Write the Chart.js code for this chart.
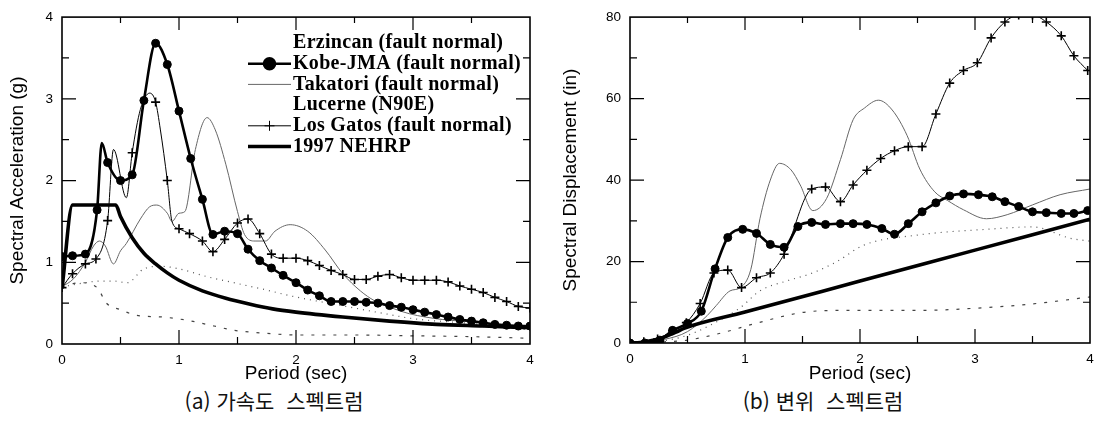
<!DOCTYPE html>
<html lang="ko">
<head>
<meta charset="UTF-8">
<title>Response spectra</title>
<script src="https://cdn.jsdelivr.net/npm/chart.js@4.4.1/dist/chart.umd.js"></script>
<style>
    body { margin: 0; background: #fff; }
    .panel { position: absolute; top: 0; width: 553px; height: 385px; }
    .caption { position: absolute; top: 385px; font-family: "Noto Sans CJK KR", sans-serif; font-size: 21px; white-space: pre; color: #111; transform: translateX(-50%); }
</style>
</head>
<body>
<div class="panel" style="left:0"><canvas id="accChart" width="553" height="385"></canvas></div>
<div class="panel" style="left:553px"><canvas id="dispChart" width="553" height="385"></canvas></div>
<div class="caption" style="left:274px">(a) 가속도  스펙트럼</div>
<div class="caption" style="left:823px">(b) 변위  스펙트럼</div>

<script>
// legend labels, in legend order
const seriesNames = ['Erzincan (fault normal)', 'Kobe-JMA (fault normal)', 'Takatori (fault normal)',
    'Lucerne (N90E)', 'Los Gatos (fault normal)', '1997 NEHRP'];
const xTicks = [0, 1, 2, 3, 4];
const accTicks = [0, 1, 2, 3, 4];
const dispTicks = [0, 20, 40, 60, 80];

// (a) spectral acceleration (g) vs period (sec)
const erzAccT  = [0, 0.2, 0.32, 0.44, 0.56, 0.7, 0.85, 1.0, 1.25, 1.5, 1.75, 1.95, 2.2, 2.5, 2.8, 3.0, 3.5, 4.0];
const erzAccSa = [0.7, 0.75, 0.77, 0.77, 0.75, 0.92, 0.95, 0.92, 0.82, 0.74, 0.66, 0.59, 0.52, 0.44, 0.36, 0.31, 0.25, 0.17];

const kobeAccT  = [0, 0.09, 0.2, 0.3, 0.34, 0.39, 0.5, 0.6, 0.7, 0.8, 0.9, 1.0, 1.1, 1.2, 1.29, 1.39, 1.5, 1.59, 1.69,
    1.79, 1.89, 2.0, 2.1, 2.2, 2.3, 2.4, 2.5, 2.6, 2.7, 2.8, 2.9, 3.0, 3.1, 3.2, 3.3, 3.4, 3.5, 3.6, 3.7, 3.8, 3.9, 4.0];
const kobeAccSa = [1.07, 1.08, 1.1, 1.64, 2.46, 2.22, 2.0, 2.07, 2.98, 3.68, 3.42, 2.85, 2.27, 1.77, 1.34, 1.38, 1.35, 1.16, 1.02,
    0.93, 0.84, 0.75, 0.66, 0.59, 0.52, 0.52, 0.52, 0.51, 0.5, 0.47, 0.45, 0.42, 0.39, 0.36, 0.33, 0.3, 0.28, 0.26, 0.24, 0.23, 0.22, 0.22];

const takAccT  = [0, 0.1, 0.2, 0.27, 0.32, 0.37, 0.44, 0.5, 0.55, 0.67, 0.75, 0.81, 0.9, 0.94, 1.0, 1.05, 1.14, 1.24, 1.31, 1.4,
    1.5, 1.56, 1.65, 1.74, 1.82, 1.95, 2.1, 2.25, 2.4, 2.55, 2.67, 2.82, 2.97, 3.25, 3.5, 3.75, 4.0];
const takAccSa = [0.7, 0.8, 1.0, 1.2, 1.26, 1.2, 0.98, 1.14, 1.23, 1.53, 1.68, 1.7, 1.6, 1.5, 1.6, 1.62, 2.38, 2.77, 2.62, 2.2,
    1.62, 1.34, 1.26, 1.26, 1.38, 1.46, 1.38, 1.15, 0.86, 0.65, 0.53, 0.44, 0.37, 0.3, 0.27, 0.23, 0.2];

const lucAccT  = [0, 0.15, 0.3, 0.38, 0.5, 0.64, 0.86, 1.07, 1.3, 1.46, 1.75, 2.0, 2.5, 3.0, 3.5, 4.0];
const lucAccSa = [0.7, 0.75, 0.69, 0.5, 0.42, 0.35, 0.33, 0.29, 0.22, 0.17, 0.13, 0.11, 0.11, 0.1, 0.09, 0.07];

const lgAccT  = [0, 0.09, 0.2, 0.29, 0.39, 0.44, 0.55, 0.6, 0.67, 0.75, 0.8, 0.84, 0.9, 0.94, 1.0, 1.09, 1.2, 1.29, 1.39, 1.5,
    1.59, 1.69, 1.79, 1.89, 2.0, 2.1, 2.2, 2.3, 2.4, 2.5, 2.6, 2.7, 2.8, 2.9, 3.0, 3.1, 3.2, 3.3, 3.4, 3.5, 3.6, 3.7, 3.8, 3.9, 4.0];
const lgAccSa = [0.69, 0.86, 0.98, 1.04, 1.51, 2.38, 1.79, 2.34, 2.87, 3.07, 2.96, 2.63, 2.0, 1.5, 1.41, 1.35, 1.26, 1.13, 1.28, 1.48,
    1.53, 1.35, 1.1, 1.05, 1.05, 1.02, 0.96, 0.9, 0.85, 0.79, 0.79, 0.83, 0.85, 0.81, 0.78, 0.78, 0.78, 0.76, 0.71, 0.67, 0.63, 0.57, 0.52, 0.46, 0.44];

const nehrpAccT  = [0, 0.09, 0.46, 0.5, 0.6, 0.7, 0.8, 0.9, 1.0, 1.2, 1.4, 1.6, 1.8, 2.0, 2.4, 2.8, 3.2, 3.6, 4.0];
const nehrpAccSa = [0.68, 1.7, 1.7, 1.56, 1.3, 1.11, 0.98, 0.87, 0.78, 0.65, 0.56, 0.49, 0.43, 0.39, 0.33, 0.28, 0.24, 0.22, 0.2];

// (b) spectral displacement (in) vs period (sec)
const erzDispT  = [0, 0.3, 0.5, 0.7, 0.96, 1.13, 1.37, 1.57, 1.8, 2.03, 2.5, 3.15, 3.5, 3.83, 4.0];
const erzDispSd = [0, 0.6, 1.9, 4.4, 8.7, 12.8, 15.3, 17, 20, 24, 26.5, 28, 28.5, 25.7, 25];

const kobeDispT  = [0, 0.13, 0.26, 0.37, 0.5, 0.62, 0.74, 0.85, 0.98, 1.1, 1.22, 1.34, 1.46, 1.58, 1.7, 1.83, 1.94, 2.06, 2.19,
    2.3, 2.42, 2.54, 2.66, 2.78, 2.9, 3.03, 3.15, 3.26, 3.38, 3.5, 3.62, 3.75, 3.86, 3.98];
const kobeDispSd = [0, 0, 0.7, 3.1, 4.8, 7.8, 18.2, 25.9, 27.9, 26.9, 24.2, 23.5, 28.6, 29.6, 29.1, 29.3, 29.3, 29.1, 28.1,
    26.7, 29.3, 32.2, 34.4, 36.1, 36.6, 36.4, 35.9, 34.7, 33.5, 32.2, 32, 31.8, 31.8, 32.5];

const takDispT  = [0, 0.3, 0.5, 0.67, 0.75, 0.87, 0.96, 1.05, 1.13, 1.22, 1.3, 1.4, 1.48, 1.59, 1.71, 1.83, 1.94, 2.04, 2.16,
    2.28, 2.41, 2.52, 2.65, 2.76, 2.9, 3.1, 3.28, 3.5, 3.74, 4.0];
const takDispSd = [0, 0.9, 2.8, 6.7, 9.2, 12.8, 13.6, 18, 30.5, 40, 44.1, 42.5, 38.8, 32.5, 35.5, 45, 54.8, 57.7, 59.6,
    57.2, 50.9, 42.7, 37.1, 35, 32.7, 30.5, 31.5, 33.9, 36.4, 37.8];

const lucDispT  = [0, 0.3, 0.5, 0.8, 1.09, 1.5, 1.83, 2.2, 2.5, 3.1, 3.5, 4.0];
const lucDispSd = [0, 0.3, 0.7, 2.5, 4.8, 7.5, 8, 8, 8, 8.7, 9.6, 11.3];

const lgDispT  = [0, 0.12, 0.24, 0.37, 0.49, 0.61, 0.73, 0.85, 0.97, 1.1, 1.22, 1.34, 1.58, 1.7, 1.83, 1.94, 2.06, 2.18,
    2.3, 2.42, 2.54, 2.66, 2.78, 2.9, 3.02, 3.14, 3.26, 3.38, 3.5, 3.62, 3.75, 3.86, 3.98];
const lgDispSd = [0, 0.3, 1.0, 3.0, 5.0, 9.7, 17.2, 17.9, 13.6, 16, 17.2, 21.8, 37.8, 38.3, 34.7, 38.8, 42.4, 45.3,
    47.2, 48.2, 48.2, 56.2, 63.8, 66.9, 68.8, 74.9, 78.8, 80.5, 80.5, 78.8, 75.4, 70.5, 66.9];

const nehrpDispT  = [0, 0.09, 0.2, 0.3, 0.4, 0.47, 1, 2, 3, 4];
const nehrpDispSd = [0, 0.13, 0.66, 1.5, 2.66, 3.6, 7.6, 15.2, 22.8, 30.4];

const SANS = '"Liberation Sans", Arial, sans-serif';
Chart.defaults.font.family = SANS;
Chart.defaults.color = '#000';

function pts(t, v) { return t.map((x, i) => ({ x: x, y: v[i] })); }

// line looks, keyed by legend position
const looks = [
    { borderColor: '#555', borderWidth: 1.2, borderDash: [1, 5], marker: false },
    { borderColor: '#000', borderWidth: 2.6, pointStyle: 'circle', pointRadius: 4, pointBackgroundColor: '#000', marker: true },
    { borderColor: '#666', borderWidth: 1, marker: false },
    { borderColor: '#444', borderWidth: 1.2, borderDash: [3, 8], marker: false },
    { borderColor: '#000', borderWidth: 1, pointStyle: 'cross', pointRadius: 4.5, pointBorderWidth: 1.6, marker: true },
    { borderColor: '#000', borderWidth: 3.6, marker: false }
];

function makeDatasets(list, markerAt) {
    return list.map((data, i) => {
        const lk = looks[i];
        return {
            label: seriesNames[i],
            data: data,
            borderColor: lk.borderColor,
            borderWidth: lk.borderWidth,
            borderDash: lk.borderDash || [],
            pointStyle: lk.pointStyle || 'circle',
            pointRadius: lk.marker ? (ctx => markerAt(ctx.raw.x) ? lk.pointRadius : 0) : 0,
            pointBorderWidth: lk.pointBorderWidth || 1,
            pointBackgroundColor: lk.pointBackgroundColor || '#000',
            pointBorderColor: '#000',
            cubicInterpolationMode: 'monotone',
            fill: false,
            order: [5, 0, 3, 4, 1, 2][i]
        };
    });
}

// frame with inward tick marks on all four sides
const frameTicks = {
    id: 'frameTicks',
    afterDatasetsDraw(chart, args, o) {
        const { ctx, chartArea: a } = chart;
        const x = chart.scales.x, y = chart.scales.y;
        ctx.save();
        ctx.strokeStyle = '#000';
        ctx.lineWidth = 1.6;
        ctx.strokeRect(a.left, a.top, a.right - a.left, a.bottom - a.top);
        ctx.lineWidth = 1.2;
        ctx.beginPath();
        for (let k = 1; k < o.xCount * 2; k++) {
            const px = x.getPixelForValue(k * o.xStep / 2);
            const len = k % 2 === 0 ? 14 : 7;
            ctx.moveTo(px, a.bottom); ctx.lineTo(px, a.bottom - len);
            ctx.moveTo(px, a.top); ctx.lineTo(px, a.top + len - 1);
        }
        for (let k = 1; k < o.yCount * 2; k++) {
            const py = y.getPixelForValue(k * o.yStep / 2);
            const len = k % 2 === 0 ? 14 : 7;
            ctx.moveTo(a.left, py); ctx.lineTo(a.left + len, py);
            ctx.moveTo(a.right, py); ctx.lineTo(a.right - len, py);
        }
        ctx.stroke();
        ctx.restore();
    }
};

const insideLegend = {
    id: 'insideLegend',
    afterDraw(chart, args, o) {
        if (!o.show) return;
        const ctx = chart.ctx;
        ctx.save();
        ctx.font = 'bold 20px "Liberation Serif", "Times New Roman", serif';
        ctx.letterSpacing = '0.3px';
        ctx.textBaseline = 'middle';
        chart.data.datasets.forEach((ds, i) => {
            const yy = o.top + i * o.step;
            const lk = looks[i];
            if (!lk.borderDash) {
                ctx.strokeStyle = lk.borderColor;
                ctx.lineWidth = lk.borderWidth;
                ctx.beginPath();
                ctx.moveTo(o.x0, yy); ctx.lineTo(o.x1, yy);
                ctx.stroke();
                if (lk.marker) {
                    ctx.fillStyle = '#000';
                    ctx.strokeStyle = '#000';
                    Chart.helpers.drawPoint(ctx, {
                        pointStyle: lk.pointStyle, rotation: 0,
                        radius: lk.pointStyle === 'circle' ? 5.5 : 5,
                        borderWidth: lk.pointBorderWidth || 1
                    }, (o.x0 + o.x1) / 2, yy);
                }
            }
            ctx.fillStyle = '#000';
            ctx.fillText(ds.label, o.textX, yy);
        });
        ctx.restore();
    }
};

function makeChart(id, datasets, yMax, yStep, yTitle, axisW, pad, legend) {
    return new Chart(document.getElementById(id), {
        type: 'line',
        data: { datasets: datasets },
        plugins: [frameTicks, insideLegend],
        options: {
            responsive: false,
            animation: false,
            events: [],
            layout: { padding: pad },
            plugins: {
                legend: { display: false },
                tooltip: { enabled: false },
                frameTicks: { xStep: 1, xCount: xTicks.length - 1, yStep: yStep, yCount: yMax / yStep },
                insideLegend: legend
            },
            scales: {
                x: {
                    type: 'linear', min: xTicks[0], max: xTicks[xTicks.length - 1],
                    afterBuildTicks: s => { s.ticks = xTicks.map(v => ({ value: v })); },
                    ticks: { padding: 8, font: { size: 13.5 }, color: '#000' },
                    grid: { display: false, drawTicks: false },
                    border: { display: false },
                    title: { display: true, text: 'Period (sec)', font: { size: 19 }, color: '#000', padding: { top: 0, bottom: 0 } },
                    afterFit: s => { s.height = 385 - pad.top - (pad.plotH); }
                },
                y: {
                    min: 0, max: yMax,
                    afterBuildTicks: s => { s.ticks = (yMax === 4 ? accTicks : dispTicks).map(v => ({ value: v })); },
                    ticks: { padding: 9, font: { size: 13.5 }, color: '#000' },
                    grid: { display: false, drawTicks: false },
                    border: { display: false },
                    title: { display: true, text: yTitle, font: { size: 19 }, color: '#000', padding: { top: 6, bottom: 0 } },
                    afterFit: s => { s.width = axisW; }
                }
            }
        }
    });
}

makeChart('accChart',
    makeDatasets([pts(erzAccT, erzAccSa), pts(kobeAccT, kobeAccSa), pts(takAccT, takAccSa),
                  pts(lucAccT, lucAccSa), pts(lgAccT, lgAccSa), pts(nehrpAccT, nehrpAccSa)],
                 x => Math.abs(x * 10 - Math.round(x * 10)) < 0.15),
    4, 1, 'Spectral Acceleration (g)', 62,
    { left: 0, top: 13, right: 23, bottom: 0, plotH: 331 },
    { show: true, x0: 248, x1: 291, textX: 293, top: 43, step: 20.7 });

makeChart('dispChart',
    makeDatasets([pts(erzDispT, erzDispSd), pts(kobeDispT, kobeDispSd), pts(takDispT, takDispSd),
                  pts(lucDispT, lucDispSd), pts(lgDispT, lgDispSd), pts(nehrpDispT, nehrpDispSd)],
                 () => true),
    80, 20, 'Spectral Displacement (in)', 77,
    { left: 0, top: 13, right: 16, bottom: 0, plotH: 330 },
    { show: false });
</script>
</body>
</html>
